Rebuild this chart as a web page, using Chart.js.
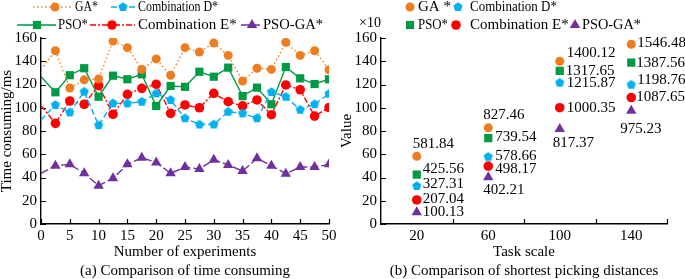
<!DOCTYPE html>
<html>
<head>
<meta charset="utf-8">
<script src="https://cdn.jsdelivr.net/npm/chart.js@4.4.1/dist/chart.umd.min.js"></script>
<style>
  body { margin: 0; background: #fff; width: 685px; height: 279px; position: relative; overflow: hidden; }
  canvas { position: absolute; top: 0; }
  #timeChart { left: 0; }
  #distChart { left: 340px; }
</style>
</head>
<body>
<canvas id="timeChart" width="340" height="279"></canvas>
<canvas id="distChart" width="345" height="279"></canvas>
<script>
// (a) time consuming per experiment
const experiments = [0, 2.5, 5, 7.5, 10, 12.5, 15, 17.5, 20, 22.5, 25, 27.5, 30, 32.5, 35, 37.5, 40, 42.5, 45, 47.5, 50];
const gaTime    = [133, 149, 117, 124, 124.7, 157.4, 151.7, 133, 142, 128, 151.7, 148, 155.7, 145, 123, 134, 133, 156.3, 145, 149, 132.7];
const psoTime   = [126.7, 113.3, 128, 134, 109.5, 127.6, 124.5, 128.8, 101.5, 118.7, 118, 131, 126.7, 134.5, 110, 117.3, 103, 135, 125.3, 120.4, 124.5];
const combDTime = [89.5, 102.4, 96, 113.8, 85, 103.8, 103.8, 105.2, 112.4, 106.7, 91, 85.6, 85.6, 96.6, 95.2, 91, 113.5, 109.5, 98.3, 103.1, 112];
const combETime = [102, 86.6, 105.8, 103, 119, 94.4, 111.5, 116.7, 120.2, 95.2, 102.4, 100, 112.4, 105.2, 101.6, 106.7, 94, 119.6, 115.5, 92.8, 100.2];
const psoGaTime = [43.6, 50.2, 51.3, 43.6, 33, 39.3, 51.3, 57, 53, 43.6, 49, 47.3, 55.3, 50.8, 45.6, 56.5, 50.2, 43.3, 49, 49, 51.3];

// (b) shortest picking distances (axis in units of x10)
const taskScales = ["20", "60", "100", "140"];
const gaDist    = [581.84, 827.46, 1400.12, 1546.48];
const psoDist   = [425.56, 739.54, 1317.65, 1387.56];
const combDDist = [327.31, 578.66, 1215.87, 1198.76];
const combEDist = [207.04, 498.17, 1000.35, 1087.65];
const psoGaDist = [100.13, 402.21, 817.37, 975.23];

const serif = "'Liberation Serif', 'Times New Roman', serif";
Chart.defaults.font.family = serif;
Chart.defaults.font.size = 15;
Chart.defaults.color = "#000";

function makePentagon(color, r) {
  const c = document.createElement("canvas");
  const s = Math.ceil(r * 2) + 2;
  c.width = c.height = s;
  const g = c.getContext("2d");
  g.fillStyle = color;
  g.beginPath();
  for (let i = 0; i < 5; i++) {
    const a = -Math.PI / 2 + i * 2 * Math.PI / 5;
    g.lineTo(s / 2 + r * Math.cos(a), s / 2 + r * Math.sin(a));
  }
  g.closePath();
  g.fill();
  return c;
}

// order: GA, Combination D, PSO, Combination E, PSO-GA
const seriesStyles = [
  { color: "#ef7d1f", dash: [1.5, 2.5], point: "circle", radius: 4.5 },
  { color: "#00b0f0", dash: [6, 3], point: makePentagon("#00b0f0", 4.8), radius: 4.8 },
  { color: "#009a44", dash: [], point: "rect", radius: 5.8 },
  { color: "#ff0000", dash: [6, 2, 2, 2], point: "circle", radius: 4.8 },
  { color: "#7030a0", dash: [8, 3], point: "triangle", radius: 6 }
];

function drawMarker(ctx, st, x, y) {
  const r = st.radius;
  ctx.fillStyle = st.color;
  if (typeof st.point !== "string") {
    ctx.drawImage(st.point, x - st.point.width / 2, y - st.point.height / 2);
    return;
  }
  ctx.beginPath();
  if (st.point === "circle") {
    ctx.arc(x, y, r, 0, Math.PI * 2);
  } else if (st.point === "rect") {
    const h = Math.SQRT1_2 * r;
    ctx.rect(x - h, y - h, 2 * h, 2 * h);
  } else {
    for (let i = 0; i < 3; i++) {
      const a = -Math.PI / 2 + i * 2 * Math.PI / 3;
      ctx.lineTo(x + r * Math.cos(a), y + r * Math.sin(a));
    }
    ctx.closePath();
  }
  ctx.fill();
}

// legend drawn by hand: two rows like the original
const seriesLegend = {
  id: "seriesLegend",
  afterDraw(chart, args, opts) {
    const ctx = chart.ctx;
    opts.items.forEach(it => {
      const st = seriesStyles[it.ds];
      ctx.save();
      if (it.x2 > it.x1) {
        ctx.strokeStyle = st.color;
        ctx.lineWidth = 1.4;
        ctx.setLineDash(st.dash);
        ctx.beginPath();
        ctx.moveTo(it.x1, it.y);
        ctx.lineTo(it.x2, it.y);
        ctx.stroke();
        ctx.setLineDash([]);
      }
      drawMarker(ctx, st, it.mx, it.y);
      ctx.fillStyle = "#000";
      ctx.font = "15px " + serif;
      ctx.textAlign = "left";
      ctx.textBaseline = "middle";
      ctx.fillText(it.text, it.tx, it.y + 0.5, it.tw);
      ctx.restore();
    });
  }
};

// tick marks pointing into the plot
const inwardTicks = {
  id: "inwardTicks",
  beforeDatasetsDraw(chart, args, opts) {
    const ctx = chart.ctx;
    const { x, y } = chart.scales;
    const len = 5;
    ctx.save();
    ctx.strokeStyle = "#000";
    ctx.lineWidth = 1.2;
    ctx.beginPath();
    if (opts.between) {
      const half = (x.getPixelForValue(1) - x.getPixelForValue(0)) / 2;
      x.ticks.forEach((t, i) => {
        const px = Math.round(x.getPixelForValue(i) + half) + 0.5;
        ctx.moveTo(px, y.bottom); ctx.lineTo(px, y.bottom - len);
      });
    } else {
      x.ticks.forEach(t => {
        const px = Math.round(x.getPixelForValue(t.value)) + 0.5;
        ctx.moveTo(px, y.bottom); ctx.lineTo(px, y.bottom - len);
      });
    }
    y.ticks.forEach(t => {
      const py = Math.round(y.getPixelForValue(t.value)) + 0.5;
      ctx.moveTo(x.left, py); ctx.lineTo(x.left + len, py);
    });
    ctx.stroke();
    ctx.restore();
  }
};

function fixX(h) {
  return s => { s.height = h; s.paddingLeft = 0; s.paddingRight = 0; };
}
function fixY(w) {
  return s => { s.width = w; s.paddingTop = 0; s.paddingBottom = 0; };
}

function xAxis(extra, titleLines) {
  return Object.assign({
    ticks: { padding: 3, color: "#000" },
    grid: { display: false, drawTicks: false },
    border: { color: "#000", width: 1.4 },
    title: { display: true, text: titleLines, font: { size: 15, lineHeight: 1.27 }, padding: { top: 0, bottom: -2 } },
    afterFit: fixX(55)
  }, extra);
}
function yAxis(title) {
  return {
    min: 0, max: 160,
    ticks: { stepSize: 20, padding: 4, color: "#000" },
    grid: { display: false, drawTicks: false },
    border: { color: "#000", width: 1.4 },
    title: { display: true, text: title, font: { size: 15, lineHeight: 1 }, padding: 0 },
    afterFit: fixY(41)
  };
}

// ---------- (a) ----------
function timeSet(label, values, st) {
  return {
    label,
    data: experiments.map((x, i) => ({ x, y: values[i] })),
    borderColor: st.color,
    backgroundColor: st.color,
    borderDash: st.dash,
    borderWidth: 1.4,
    pointStyle: st.point,
    pointRadius: c => (c.dataIndex === 0 ? 0 : st.radius),
    pointBorderWidth: 0,
    pointBackgroundColor: st.color,
    tension: 0
  };
}

new Chart(document.getElementById("timeChart"), {
  type: "line",
  data: {
    datasets: [
      timeSet("GA*", gaTime, seriesStyles[0]),
      timeSet("Combination D*", combDTime, seriesStyles[1]),
      timeSet("PSO*", psoTime, seriesStyles[2]),
      timeSet("Combination E*", combETime, seriesStyles[3]),
      timeSet("PSO-GA*", psoGaTime, seriesStyles[4])
    ]
  },
  options: {
    responsive: false,
    animation: false,
    layout: { padding: { top: 38, right: 11, left: 0, bottom: 0 } },
    plugins: {
      legend: { display: false },
      tooltip: { enabled: false },
      inwardTicks: { between: false },
      seriesLegend: {
        items: [
          { ds: 0, x1: 33, x2: 73, mx: 55, y: 7, tx: 75, tw: 23, text: "GA*" },
          { ds: 1, x1: 111, x2: 136, mx: 123, y: 7, tx: 138, tw: 80, text: "Combination D*" },
          { ds: 2, x1: 17, x2: 56, mx: 37, y: 25, tx: 58, tw: 30, text: "PSO*" },
          { ds: 3, x1: 90, x2: 135, mx: 112, y: 25, tx: 138, tw: 102, text: "Combination E*" },
          { ds: 4, x1: 241, x2: 262, mx: 252, y: 25, tx: 263, tw: 60, text: "PSO-GA*" }
        ]
      }
    },
    scales: {
      x: xAxis({ type: "linear", min: 0, max: 50, ticks: { stepSize: 5, padding: 3, color: "#000" } },
        ["Number of experiments", "(a) Comparison of time consuming"]),
      y: yAxis("Time consuming/ms")
    }
  },
  plugins: [inwardTicks, seriesLegend]
});

// ---------- (b) ----------
const distSeries = [gaDist, combDDist, psoDist, combEDist, psoGaDist];
// label offsets from the marker: [dx to text start, dy to text middle], per task scale
const labelOffsets = [
  [[-4, -12.5], [-5, -13], [7, -8], [6, -1]],
  [[6, -2], [7, -1], [7, 0], [6, -5]],
  [[6, -5], [7, -1], [6, 0], [5, 0]],
  [[6, -1], [7, 3], [7, 0], [5, 0]],
  [[6, 0], [-5, 13], [-7, 14], [-11, 18]]
];

const valueLabels = {
  id: "valueLabels",
  afterDatasetsDraw(chart) {
    const ctx = chart.ctx;
    ctx.save();
    ctx.fillStyle = "#000";
    ctx.font = "15px " + serif;
    ctx.textAlign = "left";
    ctx.textBaseline = "middle";
    chart.data.datasets.forEach((ds, i) => {
      chart.getDatasetMeta(i).data.forEach((pt, j) => {
        const [dx, dy] = labelOffsets[i][j];
        ctx.fillText(distSeries[i][j].toFixed(2), pt.x + dx, pt.y + dy);
      });
    });
    // axis multiplier
    ctx.font = "14px " + serif;
    ctx.textAlign = "center";
    ctx.fillText("\u00d710", 30, 23);
    ctx.restore();
  }
};

function distSet(label, values, st) {
  return {
    label,
    data: values.map(v => v / 10),
    showLine: false,
    borderColor: st.color,
    backgroundColor: st.color,
    pointStyle: st.point,
    pointRadius: st.radius,
    pointBorderWidth: 0,
    pointBackgroundColor: st.color
  };
}

new Chart(document.getElementById("distChart"), {
  type: "line",
  data: {
    labels: taskScales,
    datasets: [
      distSet("GA *", gaDist, seriesStyles[0]),
      distSet("Combination D*", combDDist, seriesStyles[1]),
      distSet("PSO*", psoDist, seriesStyles[2]),
      distSet("Combination E*", combEDist, seriesStyles[3]),
      distSet("PSO-GA*", psoGaDist, seriesStyles[4])
    ]
  },
  options: {
    responsive: false,
    animation: false,
    layout: { padding: { top: 38, right: 18, left: 0, bottom: 0 } },
    plugins: {
      legend: { display: false },
      tooltip: { enabled: false },
      inwardTicks: { between: true },
      seriesLegend: {
        items: [
          { ds: 0, x1: 0, x2: 0, mx: 70, y: 7, tx: 78, tw: 33, text: "GA *" },
          { ds: 1, x1: 0, x2: 0, mx: 118, y: 7, tx: 130, tw: 87, text: "Combination D*" },
          { ds: 2, x1: 0, x2: 0, mx: 70, y: 25, tx: 78, tw: 30, text: "PSO*" },
          { ds: 3, x1: 0, x2: 0, mx: 116, y: 25, tx: 130, tw: 99, text: "Combination E*" },
          { ds: 4, x1: 0, x2: 0, mx: 235, y: 25, tx: 242, tw: 59, text: "PSO-GA*" }
        ]
      }
    },
    scales: {
      x: xAxis({ type: "category", offset: true, grid: { display: false, drawTicks: false, offset: true } },
        ["Task scale", "(b) Comparison of shortest picking distances"]),
      y: yAxis("Value")
    }
  },
  plugins: [inwardTicks, seriesLegend, valueLabels]
});
</script>
</body>
</html>
